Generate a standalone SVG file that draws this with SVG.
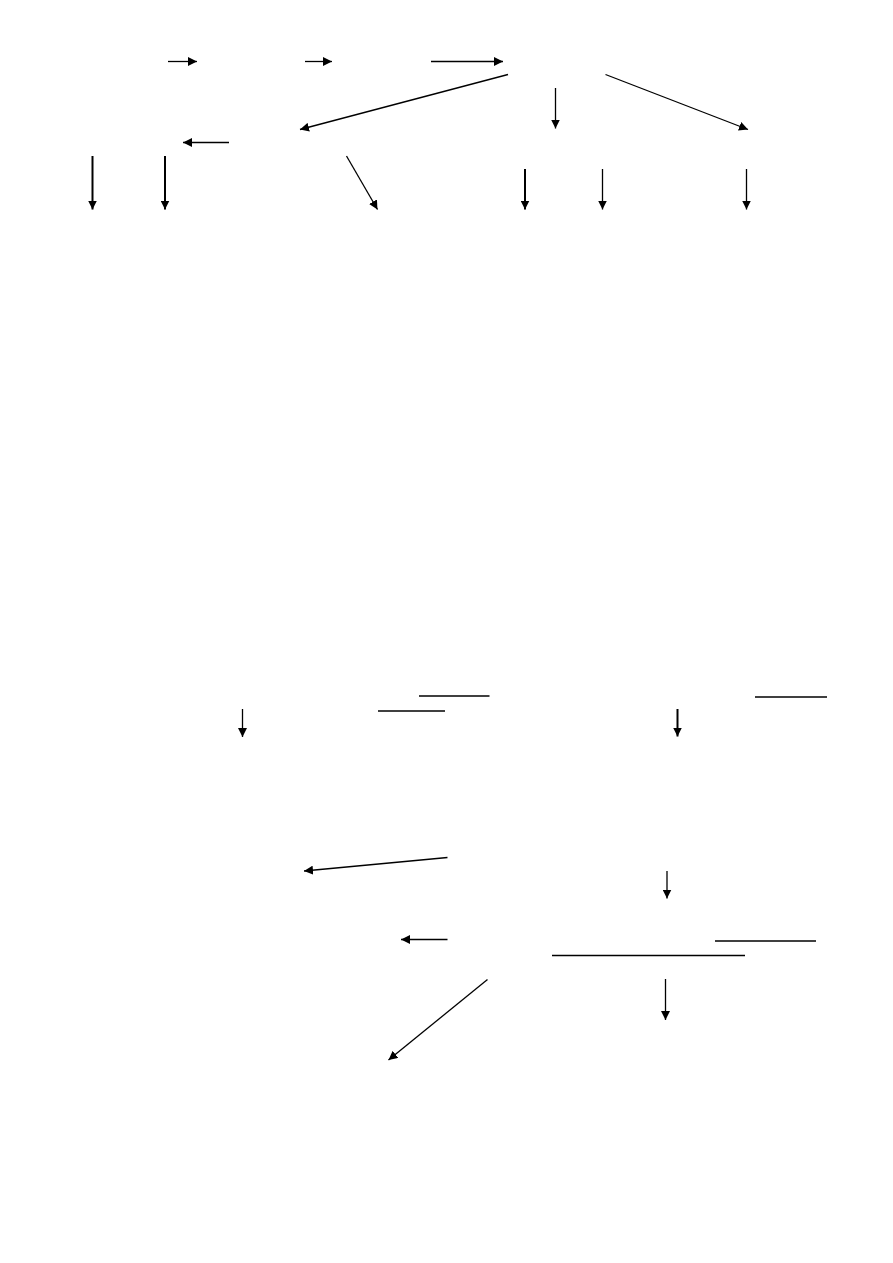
<svg xmlns="http://www.w3.org/2000/svg" width="893" height="1263" viewBox="0 0 893 1263">
<defs>
<marker id="ah" markerUnits="userSpaceOnUse" markerWidth="10" markerHeight="9" refX="9" refY="4.5" orient="auto">
<path d="M0,0 L9,4.5 L0,9 Z" fill="#000"/>
</marker>
<style>
.c{stroke:#000;stroke-width:1.3;fill:none;marker-end:url(#ah)}
.t{stroke-width:2}
.u{stroke:#000;stroke-width:1.3;fill:none}
</style>
</defs>
<rect width="893" height="1263" fill="#fff"/>
<g id="connectors">
<line class="c" x1="168" y1="61.5" x2="197" y2="61.5"/>
<line class="c" x1="305" y1="61.5" x2="332" y2="61.5"/>
<line class="c" x1="431" y1="61.5" x2="503" y2="61.5"/>
<line class="c" x1="508" y1="74.5" x2="300" y2="129.5"/>
<line class="c" x1="555.5" y1="88" x2="555.5" y2="128.5"/>
<line class="c" x1="605.5" y1="74.5" x2="748" y2="129.5"/>
<line class="c" x1="229" y1="142.5" x2="183" y2="142.5"/>
<line class="c t" x1="92.5" y1="156" x2="92.5" y2="209.5"/>
<line class="c t" x1="165" y1="156" x2="165" y2="209.5"/>
<line class="c" x1="346.5" y1="156" x2="377.5" y2="209.5"/>
<line class="c t" x1="525" y1="169" x2="525" y2="209.5"/>
<line class="c" x1="602.5" y1="169" x2="602.5" y2="209.5"/>
<line class="c" x1="746.5" y1="169" x2="746.5" y2="209.5"/>
<line class="c" x1="242.5" y1="709" x2="242.5" y2="737"/>
<line class="c t" x1="677.5" y1="709" x2="677.5" y2="736.5"/>
<line class="c" x1="447.5" y1="857.5" x2="304" y2="871"/>
<line class="c" x1="447.5" y1="939.5" x2="401" y2="939.5"/>
<line class="c" x1="487.5" y1="979.5" x2="388.5" y2="1060"/>
<line class="c" x1="667" y1="871" x2="667" y2="898.5"/>
<line class="c" x1="665.5" y1="979" x2="665.5" y2="1020"/>
</g>
<g id="underlines">
<line class="u" x1="419" y1="696" x2="489.5" y2="696"/>
<line class="u" x1="378" y1="711" x2="445" y2="711"/>
<line class="u" x1="755" y1="697" x2="827" y2="697"/>
<line class="u" x1="715" y1="941" x2="816" y2="941"/>
<line class="u" x1="552" y1="955.5" x2="745" y2="955.5"/>
</g>
</svg>
